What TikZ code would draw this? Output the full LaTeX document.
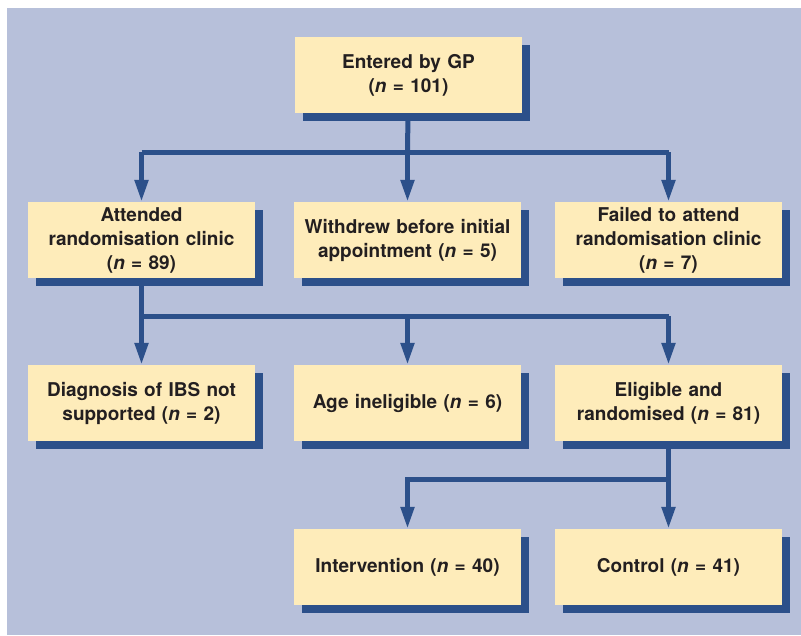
\documentclass[tikz,border=0pt]{standalone}
\usepackage{fontspec}
\setmainfont{TeX Gyre Heros}
\usetikzlibrary{arrows.meta,shadows}

\definecolor{bgblue}{RGB}{183,192,218}
\definecolor{boxfill}{RGB}{254,236,186}
\definecolor{navy}{RGB}{44,80,138}
\definecolor{ink}{RGB}{35,31,32}

\tikzset{
  flowbox/.style={fill=boxfill, minimum width=227pt, minimum height=76pt,
    inner sep=0pt, text width=220pt, align=center, text=ink,
    font=\bfseries\fontsize{19}{24}\selectfont,
    drop shadow={shadow xshift=8pt, shadow yshift=-8pt, fill=navy, opacity=1}},
  link/.style={navy, line width=5pt},
  arr/.style={link, -{Triangle[length=22pt,width=13pt]}}
}

\begin{document}
\begin{tikzpicture}[x=1pt,y=-1pt]
	\useasboundingbox (0,0) rectangle (801,635);
	\fill[bgblue] (7,8) rectangle (801,635);
	% boxes
	\node[flowbox] (gp) at (408.5,75) {Entered by GP\\(\textit{n} = 101)};
	\node[flowbox] (att) at (141.5,240) {Attended\\randomisation clinic\\(\textit{n} = 89)};
	\node[flowbox] (wd) at (407.5,240) {Withdrew before initial\\appointment (\textit{n} = 5)};
	\node[flowbox] (fail) at (668.5,240) {Failed to attend\\randomisation clinic\\(\textit{n} = 7)};
	\node[flowbox] (diag) at (141.5,403) {Diagnosis of IBS not\\supported (\textit{n} = 2)};
	\node[flowbox] (age) at (407.5,403) {Age ineligible (\textit{n} = 6)};
	\node[flowbox] (elig) at (668.5,403) {Eligible and\\randomised (\textit{n} = 81)};
	\node[flowbox] (intv) at (407.5,567) {Intervention (\textit{n} = 40)};
	\node[flowbox] (ctrl) at (668.5,567) {Control (\textit{n} = 41)};
	% junctions
	\coordinate (split1) at (407.5,152);
	\coordinate (split2) at (141.5,316);
	\coordinate (split3) at (668.5,479);
	% connectors
	\draw[link] (gp) -- (split1);
	\draw[link] (split1 -| att) -- (split1 -| fail);
	\foreach \n in {att,wd,fail}
		\draw[arr] (split1 -| \n) -- (\n);
	\draw[link] (att) -- (split2);
	\draw[link] (split2) -- (split2 -| elig);
	\foreach \n in {diag,age,elig}
		\draw[arr] (split2 -| \n) -- (\n);
	\draw[arr] (elig) -- (ctrl);
	\draw[arr] (split3) -| (intv);
\end{tikzpicture}
\end{document}
